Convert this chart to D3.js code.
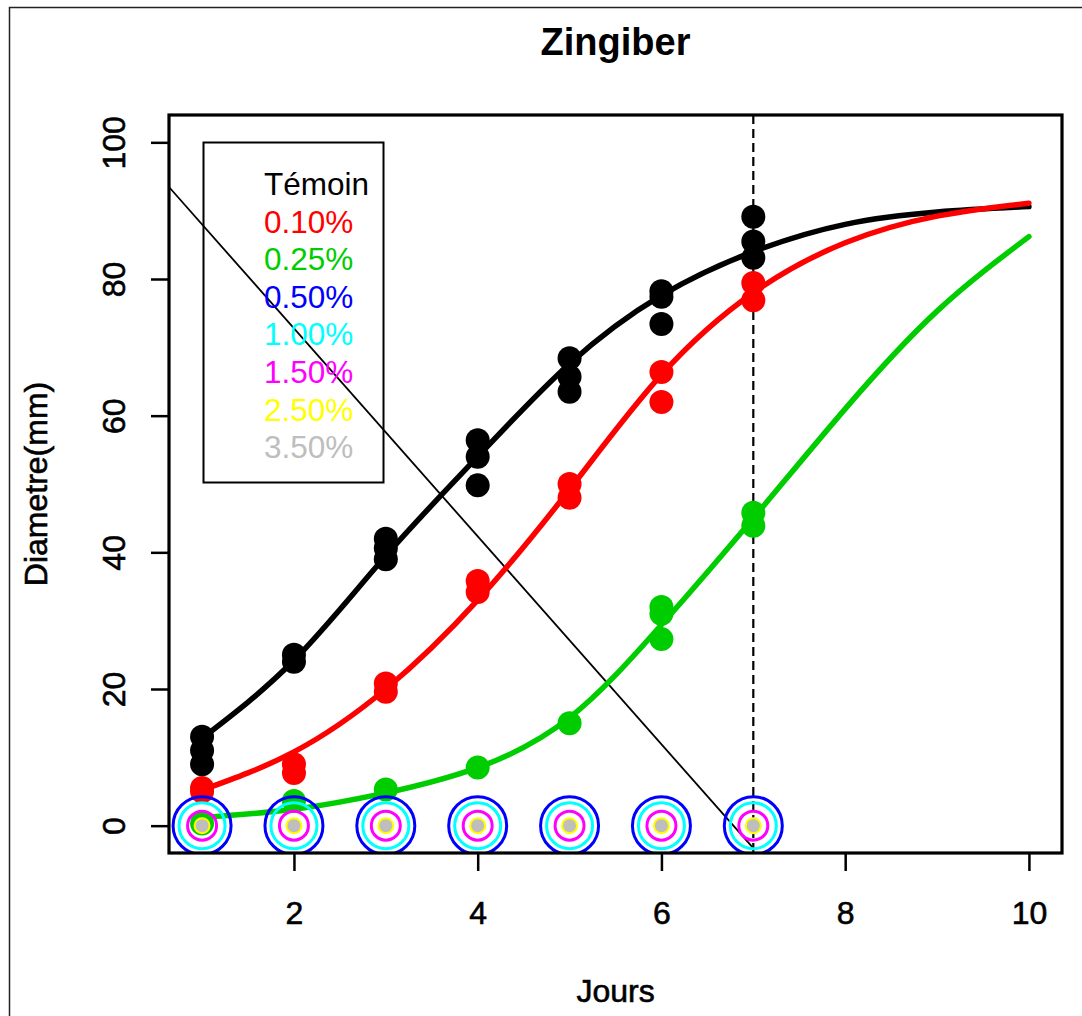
<!DOCTYPE html>
<html>
<head>
<meta charset="utf-8">
<script src="https://cdn.jsdelivr.net/npm/d3@7"></script>
<style>
  body { margin: 0; background: #fff; }
  svg { display: block; font-family: "Liberation Sans", Arial, sans-serif; }
  .heavy { stroke: currentColor; stroke-width: 0.6px; }
</style>
</head>
<body>
<script>
// observed diameters (mm) per day
var temoinPts = [[1, 13], [1, 11], [1, 9], [2, 25], [2, 24], [3, 42], [3, 40.6], [3, 39],
    [4, 56.4], [4, 54], [4, 49.8], [5, 68.4], [5, 65.7], [5, 63.5], [6, 78.2], [6, 77.4], [6, 73.4],
    [7, 89.1], [7, 85.5], [7, 83.1]];
var p010Pts = [[1, 5.5], [1, 5], [2, 9], [2, 7.7], [3, 20.8], [3, 19.6], [4, 35.8], [4, 34.2],
    [5, 50], [5, 48], [6, 66.4], [6, 62], [7, 79.4], [7, 76.9]];
var p025Pts = [[1, 0.3], [2, 3.6], [3, 5.3], [4, 8.5], [5, 15], [6, 32], [6, 31], [6, 27.3],
    [7, 45.8], [7, 43.9]];
var zeroDays = [1, 2, 3, 4, 5, 6, 7];

// fitted curves read at each day
var curveDays = [1, 2, 3, 4, 5, 6, 7, 8, 9, 10];
var temoinFit = [12.8, 24.2, 39.5, 54, 67.6, 77.6, 84, 88, 89.8, 90.6];
var p010Fit = [5.2, 10.8, 20, 33, 49.2, 66, 78, 85.3, 89.2, 91.1];
var p025Fit = [1.2, 2.4, 4.8, 8.5, 15.8, 29.4, 45, 61, 75.3, 86.2];

var refSegment = [[0, 103.2], [7, -3.3]];
var refDay = 7;

var legendLabels = ["Témoin", "0.10%", "0.25%", "0.50%", "1.00%", "1.50%", "2.50%", "3.50%"];
var legendColors = ["#000000", "#FF0000", "#00CD00", "#0000FF", "#00FFFF", "#FF00FF", "#FFFF00", "#BEBEBE"];

var xTicks = [2, 4, 6, 8, 10];
var yTicks = [0, 20, 40, 60, 80, 100];

var W = 1082, H = 1016;
var plot = { left: 169, right: 1062, top: 115, bottom: 853 };

var svg = d3.select("body").append("svg")
    .attr("width", W)
    .attr("height", H);

// outer figure frame (only left and top edges visible)
svg.append("path")
    .attr("d", "M9.5," + H + "V7.5H" + W)
    .attr("fill", "none")
    .attr("stroke", "#222")
    .attr("stroke-width", 1.5);

var x = d3.scaleLinear().domain([0.64, 10.36]).range([plot.left, plot.right]);
var y = d3.scaleLinear().domain([-4, 104]).range([plot.bottom, plot.top]);

svg.append("clipPath").attr("id", "plotclip")
    .append("rect")
    .attr("x", plot.left).attr("y", plot.top)
    .attr("width", plot.right - plot.left)
    .attr("height", plot.bottom - plot.top);

var g = svg.append("g").attr("clip-path", "url(#plotclip)");

// reference lines
g.append("line")
    .attr("x1", x(refSegment[0][0])).attr("y1", y(refSegment[0][1]))
    .attr("x2", x(refSegment[1][0])).attr("y2", y(refSegment[1][1]))
    .attr("stroke", "#000")
    .attr("stroke-width", 1.8);

g.append("line")
    .attr("x1", x(refDay)).attr("x2", x(refDay))
    .attr("y1", y(104)).attr("y2", y(-4))
    .attr("stroke", "#000")
    .attr("stroke-width", 2.2)
    .attr("stroke-dasharray", "9,5");

// points
function drawPts(data, col) {
    g.append("g").selectAll("circle")
        .data(data)
        .enter().append("circle")
        .attr("cx", d => x(d[0]))
        .attr("cy", d => y(d[1]))
        .attr("r", 12)
        .attr("fill", col);
}
drawPts(temoinPts, legendColors[0]);
drawPts(p010Pts, legendColors[1]);
drawPts(p025Pts, legendColors[2]);

// fitted curves
var line = d3.line()
    .x((d, i) => x(curveDays[i]))
    .y(d => y(d))
    .curve(d3.curveNatural);

[[temoinFit, 0], [p010Fit, 1], [p025Fit, 2]].forEach(function(c) {
    g.append("path")
        .attr("d", line(c[0]))
        .attr("fill", "none")
        .attr("stroke", legendColors[c[1]])
        .attr("stroke-width", 5.5)
        .attr("stroke-linecap", "round");
});

// concentrations with zero growth: rings at y = 0
var rings = [
    { col: legendColors[3], r: 29 },
    { col: legendColors[4], r: 23 },
    { col: legendColors[5], r: 14.5 }
];
rings.forEach(function(rg) {
    g.append("g").selectAll("circle")
        .data(zeroDays)
        .enter().append("circle")
        .attr("cx", d => x(d))
        .attr("cy", y(0))
        .attr("r", rg.r)
        .attr("fill", "none")
        .attr("stroke", rg.col)
        .attr("stroke-width", 3);
});
g.append("g").selectAll("circle")
    .data(zeroDays)
    .enter().append("circle")
    .attr("cx", d => x(d))
    .attr("cy", y(0))
    .attr("r", 8.5)
    .attr("fill", legendColors[6]);
g.append("g").selectAll("circle")
    .data(zeroDays)
    .enter().append("circle")
    .attr("cx", d => x(d))
    .attr("cy", y(0))
    .attr("r", 6.5)
    .attr("fill", legendColors[7]);

// axes
var xAxis = svg.append("g")
    .attr("transform", "translate(0," + plot.bottom + ")")
    .call(d3.axisBottom(x).tickValues(xTicks).tickSize(18).tickFormat(d3.format("d")));
xAxis.select(".domain").remove();
xAxis.selectAll("line").attr("stroke-width", 2.5);
xAxis.selectAll("text")
    .attr("y", 71).attr("dy", null)
    .attr("class", "heavy")
    .style("font-size", "32px")
    .style("font-family", "Liberation Sans, Arial, sans-serif")
    .attr("fill", "#000");

var yAxis = svg.append("g")
    .attr("transform", "translate(" + plot.left + ",0)")
    .call(d3.axisLeft(y).tickValues(yTicks).tickSize(18));
yAxis.select(".domain").remove();
yAxis.selectAll("line").attr("stroke-width", 2.5);
yAxis.selectAll("text")
    .attr("x", 0).attr("y", -44).attr("dy", null)
    .attr("transform", "rotate(-90)")
    .attr("class", "heavy")
    .style("text-anchor", "middle")
    .style("font-size", "32px")
    .style("font-family", "Liberation Sans, Arial, sans-serif")
    .attr("fill", "#000");

// plot box
svg.append("rect")
    .attr("x", plot.left).attr("y", plot.top)
    .attr("width", plot.right - plot.left)
    .attr("height", plot.bottom - plot.top)
    .attr("fill", "none")
    .attr("stroke", "#000")
    .attr("stroke-width", 3.2);

// titles
svg.append("text")
    .attr("x", (plot.left + plot.right) / 2)
    .attr("y", 55)
    .attr("text-anchor", "middle")
    .style("font-size", "38px")
    .style("font-weight", "bold")
    .text("Zingiber");

svg.append("text")
    .attr("x", (plot.left + plot.right) / 2)
    .attr("y", 1002)
    .attr("text-anchor", "middle")
    .attr("class", "heavy")
    .style("font-size", "32px")
    .text("Jours");

svg.append("text")
    .attr("transform", "translate(47," + (plot.top + plot.bottom) / 2 + ") rotate(-90)")
    .attr("text-anchor", "middle")
    .attr("class", "heavy")
    .style("font-size", "32px")
    .text("Diametre(mm)");

// legend
var leg = svg.append("g");
leg.append("rect")
    .attr("x", 203.5).attr("y", 142.5)
    .attr("width", 180).attr("height", 340)
    .attr("fill", "none")
    .attr("stroke", "#000")
    .attr("stroke-width", 2);
leg.selectAll("text")
    .data(legendLabels)
    .enter().append("text")
    .attr("x", 264)
    .attr("y", (d, i) => 195 + i * 37.6)
    .attr("fill", (d, i) => legendColors[i])
    .style("font-size", "31.5px")
    .text(d => d);
</script>
</body>
</html>
